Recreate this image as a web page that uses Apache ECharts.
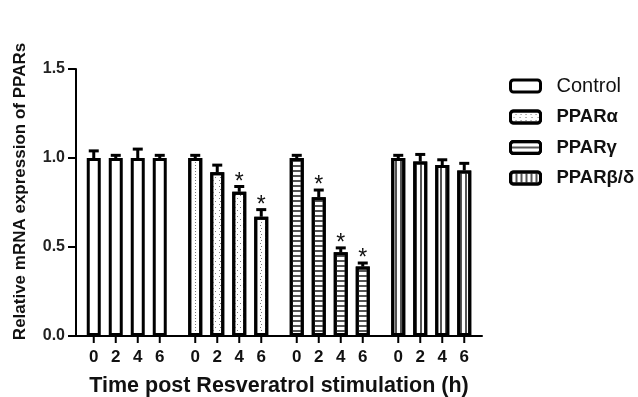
<!DOCTYPE html>
<html>
<head>
<meta charset="utf-8">
<script src="https://cdn.jsdelivr.net/npm/echarts@6/dist/echarts.min.js"></script>
<style>
html,body{margin:0;padding:0;background:#fff;}
#chart{width:638px;height:397px;}
</style>
</head>
<body>
<div id="chart"></div>
<script>
const groups = ['Control', 'PPARα', 'PPARγ', 'PPARβ/δ'];
const times = ['0', '2', '4', '6'];
const yTicks = [0, 0.5, 1.0, 1.5];

const controlMean = [1.0, 1.0, 1.0, 1.0];
const alphaMean = [1.0, 0.92, 0.81, 0.67];
const gammaMean = [1.0, 0.78, 0.47, 0.39];
const betaDeltaMean = [1.0, 0.98, 0.96, 0.93];

const controlErr = [0.04, 0.015, 0.05, 0.015];
const alphaErr = [0.015, 0.04, 0.03, 0.04];
const gammaErr = [0.015, 0.04, 0.025, 0.02];
const betaDeltaErr = [0.015, 0.04, 0.03, 0.04];

const controlSig = [0, 0, 0, 0];
const alphaSig = [0, 0, 1, 1];
const gammaSig = [0, 1, 1, 1];
const betaDeltaSig = [0, 0, 0, 0];

const means = [controlMean, alphaMean, gammaMean, betaDeltaMean];
const errs = [controlErr, alphaErr, gammaErr, betaDeltaErr];
const sigs = [controlSig, alphaSig, gammaSig, betaDeltaSig];

const FONT = '"Liberation Sans", Arial, sans-serif';
const BAR_W = 14, STRIDE = 22;

const decals = [
  null,
  {symbol: 'rect', symbolSize: 1, color: '#777', dashArrayX: [[1, 4], [0, 2.5, 1, 1.5]], dashArrayY: [1, 2]},
  {symbol: 'rect', symbolSize: 1, color: '#555', dashArrayX: [1, 0], dashArrayY: [1.5, 2.5]},
  {symbol: 'rect', symbolSize: 1, color: '#555', dashArrayX: [1.5, 2.5], dashArrayY: [1, 0]}
];
function styleFor(gi) {
  const s = {color: '#fff', borderColor: '#000', borderWidth: 3};
  if (decals[gi]) s.decal = decals[gi];
  return s;
}

const series = [];
times.forEach((t, i) => {
  series.push({
    type: 'bar', name: 't' + t, xAxisIndex: 0, yAxisIndex: 0,
    barWidth: BAR_W, barGap: ((STRIDE - BAR_W) / BAR_W * 100) + '%',
    silent: true,
    data: groups.map((g, gi) => ({value: means[gi][i], itemStyle: styleFor(gi)})),
    itemStyle: {color: '#fff', borderColor: '#000', borderWidth: 3}
  });
});
// legend-only series on hidden axes
groups.forEach((g, gi) => {
  series.push({type: 'bar', name: g, xAxisIndex: 1, yAxisIndex: 1, data: [], itemStyle: styleFor(gi)});
});

const customData = [];
groups.forEach((g, gi) => times.forEach((t, i) => {
  customData.push([gi, i, means[gi][i], errs[gi][i], sigs[gi][i]]);
}));

series.push({
  type: 'custom', xAxisIndex: 0, yAxisIndex: 0, silent: true, z: 5, clip: false,
  encode: {x: 0, y: 2},
  data: customData,
  renderItem: function (params, api) {
    const gi = api.value(0), i = api.value(1), m = api.value(2), e = api.value(3), s = api.value(4);
    const base = api.coord([gi, 0]);
    const top = api.coord([gi, m]);
    const cap = api.coord([gi, m + e]);
    const x = base[0] + (i - 1.5) * STRIDE;
    const st = {stroke: '#000', lineWidth: 3};
    const ch = [
      {type: 'line', shape: {x1: x, y1: top[1], x2: x, y2: cap[1]}, style: st},
      {type: 'line', shape: {x1: x - 5, y1: cap[1], x2: x + 5, y2: cap[1]}, style: st},
      {type: 'line', shape: {x1: x, y1: base[1], x2: x, y2: base[1] + 7}, style: {stroke: '#000', lineWidth: 2}},
      {type: 'text', style: {x: x, y: base[1] + 21, text: times[i], fill: '#111', font: 'bold 17px ' + FONT, align: 'center', verticalAlign: 'middle'}}
    ];
    if (s) {
      ch.push({type: 'text', style: {x: x, y: cap[1] - 4, text: '*', fill: '#111', font: '23px ' + FONT, align: 'center', verticalAlign: 'middle'}});
    }
    return {type: 'group', children: ch};
  }
});

const chart = echarts.init(document.getElementById('chart'), null, {renderer: 'canvas'});
chart.setOption({
  animation: false,
  backgroundColor: '#fff',
  textStyle: {fontFamily: FONT},
  grid: [
    {left: 76, right: 156, top: 69, bottom: 61, containLabel: false, outerBoundsMode: 'none'},
    {left: 0, top: 0, width: 1, height: 1, show: false, outerBoundsMode: 'none'}
  ],
  legend: {
    data: groups, orient: 'vertical', left: 509, top: 76, padding: 0,
    itemWidth: 30, itemHeight: 12, itemGap: 11.5, icon: 'roundRect',
    itemStyle: {borderColor: '#000', borderWidth: 3},
    selectedMode: false,
    formatter: function (n) { return n === 'Control' ? '{a|' + n + '}' : '{b|' + n + '}'; },
    textStyle: {
      rich: {
        a: {fontSize: 20, lineHeight: 20, fontWeight: 'normal', color: '#111', padding: [0, 0, 0, 11], fontFamily: FONT},
        b: {fontSize: 18.5, lineHeight: 20, fontWeight: 'bold', color: '#111', padding: [0, 0, 0, 11], fontFamily: FONT}
      }
    }
  },
  xAxis: [
    {
      type: 'category', gridIndex: 0, data: groups,
      axisLine: {show: true, lineStyle: {color: '#000', width: 2}},
      axisTick: {show: false}, axisLabel: {show: false}, splitLine: {show: false},
      name: 'Time post Resveratrol stimulation (h)', nameLocation: 'middle', nameGap: 39,
      nameTextStyle: {fontSize: 21.5, fontWeight: 'bold', color: '#111', fontFamily: FONT}
    },
    {type: 'category', gridIndex: 1, show: false, data: ['x']}
  ],
  yAxis: [
    {
      type: 'value', gridIndex: 0, min: 0, max: 1.5, interval: 0.5,
      axisLine: {show: true, lineStyle: {color: '#000', width: 2}},
      axisTick: {show: true, length: 8, lineStyle: {color: '#000', width: 2}},
      splitLine: {show: false},
      axisLabel: {
        fontSize: 16, fontWeight: 'bold', color: '#222', margin: 11, fontFamily: FONT,
        formatter: function (v) { return yTicks.indexOf(v) >= 0 ? v.toFixed(1) : ''; }
      },
      name: 'Relative mRNA expression of PPARs', nameLocation: 'middle', nameGap: 47, nameRotate: 90,
      nameTextStyle: {fontSize: 17, fontWeight: 'bold', color: '#111', fontFamily: FONT, padding: [0, 0, 0, 22]}
    },
    {type: 'value', gridIndex: 1, show: false}
  ],
  series: series
});
</script>
</body>
</html>
